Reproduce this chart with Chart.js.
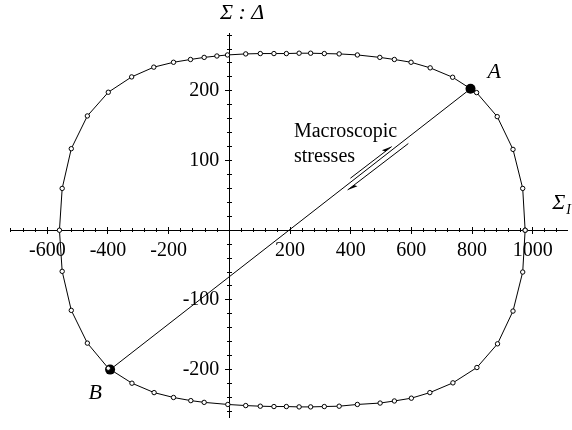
<!DOCTYPE html>
<html>
<head>
<meta charset="utf-8">
<script src="https://cdn.jsdelivr.net/npm/chart.js@4"></script>
<style>
  html, body { margin: 0; padding: 0; background: #fff; }
  #wrap { width: 572px; height: 430px; position: relative; }
</style>
</head>
<body>
<div id="wrap"><canvas id="chart"></canvas></div>
<script>
// ---- data ----
// yield surface (closed loop), open markers
const curveX = [975, 967, 935, 883, 815, 736, 662, 599, 544, 496, 422, 362, 313, 268, 230, 188, 147, 102, 54, -6, -41, -83, -128, -184, -249, -322, -399, -468, -521, -551, -560,
                -551, -521, -468, -399, -321, -248, -184, -127, -83, -5, 54, 102, 147, 188, 230, 268, 313, 362, 422, 497, 544, 600, 661, 737, 816, 884, 935, 967, 975];
const curveY = [0, 60, 116, 163, 197.5, 219.5, 233, 241, 245, 248, 251.5, 253, 253.5, 254, 254, 253.5, 253.5, 253.5, 253, 251.5, 250, 248, 245, 241, 234, 220, 198, 164, 117, 60, 0,
                -59, -115, -162, -198, -219.5, -233, -240, -244.5, -247, -250, -251.6, -252.5, -253, -253, -253.5, -253.5, -253, -252.5, -250, -248, -245, -241, -233, -219, -197, -163, -116, -60, 0];

// stress points A and B
const pointNames = ['A', 'B'];
const pointX = [795, -393];
const pointY = [203, -200];

// axes
const xRange = [-723, 1113];
const yRange = [-268, 283];
const xMajor = 200, xMinor = 40;
const yMajor = 100, yMinor = 20;

// ---- helpers ----
const SERIF = '"Liberation Serif", "Times New Roman", serif';

function tickAxis(axis, step, len, withLabels, withBorder) {
  const range = axis === 'x' ? xRange : yRange;
  return {
    type: 'linear',
    axis: axis,
    min: range[0],
    max: range[1],
    position: axis === 'x' ? { y: 0 } : { x: 0 },
    border: { display: withBorder, color: '#000', width: 1 },
    grid: { drawOnChartArea: false, drawTicks: true, tickLength: len, tickColor: '#000', tickWidth: 1 },
    ticks: {
      display: withLabels,
      autoSkip: false,
      maxRotation: 0,
      padding: 6,
      color: '#000',
      font: { family: SERIF, size: 20 },
      // centred y axis ignores padding, so an en space keeps labels off the axis
      callback: function(v) {
        if (v === 0) return '';
        return axis === 'y' ? v + '\u2002' : String(v);
      }
    },
    // ticks on whole multiples of the step, inside the axis range
    afterBuildTicks: function(s) {
      const t = [];
      for (let v = Math.ceil(range[0] / step) * step; v <= range[1]; v += step) t.push({ value: v });
      s.ticks = t;
    },
    afterFit: function(s) { s.paddingTop = 0; s.paddingBottom = 0; s.paddingLeft = 0; s.paddingRight = 0; }
  };
}

// text + arrow annotations, in data units
const notes = [
  { text: 'Σ : Δ', x: -31, y: 303, font: 'italic 22px ' + SERIF },
  { text: 'A', x: 851, y: 218.5, font: 'italic 22px ' + SERIF },
  { text: 'B', x: -464, y: -242, font: 'italic 22px ' + SERIF },
  { text: 'Macroscopic', x: 213, y: 134, font: '20px ' + SERIF },
  { text: 'stresses', x: 213, y: 98, font: '20px ' + SERIF }
];
const arrows = [
  { from: [399, 74.6], to: [535, 120] },
  { from: [590, 124.4], to: [390, 57.8] }
];

const notesPlugin = {
  id: 'notes',
  afterDatasetsDraw(chart) {
    const ctx = chart.ctx;
    const sx = chart.scales.x, sy = chart.scales.y;
    ctx.save();
    ctx.fillStyle = '#000';
    ctx.strokeStyle = '#000';
    ctx.textBaseline = 'alphabetic';
    ctx.textAlign = 'left';
    notes.forEach(n => {
      ctx.font = n.font;
      ctx.fillText(n.text, sx.getPixelForValue(n.x), sy.getPixelForValue(n.y));
    });

    // Σ_I at the end of the horizontal axis (runs off the right edge)
    const ix = sx.getPixelForValue(1064), iy = sy.getPixelForValue(30.6);
    ctx.font = 'italic 22px ' + SERIF;
    ctx.fillText('Σ', ix, iy);
    ctx.font = 'italic 14px ' + SERIF;
    ctx.fillText('I', ix + 14, iy + 5);

    // half-headed arrows alongside the loading path
    ctx.lineWidth = 1;
    arrows.forEach(a => {
      const x1 = sx.getPixelForValue(a.from[0]), y1 = sy.getPixelForValue(a.from[1]);
      const x2 = sx.getPixelForValue(a.to[0]),   y2 = sy.getPixelForValue(a.to[1]);
      const len = Math.hypot(x2 - x1, y2 - y1);
      const ux = (x2 - x1) / len, uy = (y2 - y1) / len;
      const nx = uy, ny = -ux;
      ctx.beginPath();
      ctx.moveTo(x1, y1);
      ctx.lineTo(x2, y2);
      ctx.stroke();
      ctx.beginPath();
      ctx.moveTo(x2, y2);
      ctx.lineTo(x2 - ux * 10 + nx * 3, y2 - uy * 10 + ny * 3);
      ctx.lineTo(x2 - ux * 8, y2 - uy * 8);
      ctx.closePath();
      ctx.fill();
    });
    ctx.restore();
  }
};

const bgPlugin = {
  id: 'bg',
  beforeDraw(chart) {
    const ctx = chart.ctx;
    ctx.save();
    ctx.fillStyle = '#fff';
    ctx.fillRect(0, 0, chart.width, chart.height);
    ctx.restore();
  }
};

const curveData = curveX.map((x, i) => ({ x: x, y: curveY[i] }));
const pathData = pointX.map((x, i) => ({ x: x, y: pointY[i] }));

new Chart(document.getElementById('chart'), {
  type: 'scatter',
  data: {
    datasets: [
      {
        label: 'yield surface',
        data: curveData,
        showLine: true,
        borderColor: '#000',
        borderWidth: 1,
        pointRadius: 2.2,
        pointBorderWidth: 1,
        pointBorderColor: '#000',
        pointBackgroundColor: '#fff',
        tension: 0
      },
      {
        label: 'loading path',
        data: pathData,
        showLine: true,
        borderColor: '#000',
        borderWidth: 1,
        pointRadius: 5,
        pointBorderWidth: 0,
        pointBackgroundColor: '#000'
      }
    ]
  },
  options: {
    responsive: true,
    maintainAspectRatio: false,
    animation: false,
    layout: { padding: { left: 10, right: 0, top: 33, bottom: 13 } },
    plugins: { legend: { display: false }, tooltip: { enabled: false } },
    scales: {
      x:  tickAxis('x', xMajor, 3, true, true),
      xa: tickAxis('x', xMajor, -3, false, false),
      xb: tickAxis('x', xMinor, 2, false, false),
      xc: tickAxis('x', xMinor, -2, false, false),
      y:  tickAxis('y', yMajor, 4, true, true),
      ya: tickAxis('y', yMajor, -2, false, false),
      yb: tickAxis('y', yMinor, 2, false, false),
      yc: tickAxis('y', yMinor, -3, false, false)
    }
  },
  plugins: [bgPlugin, notesPlugin]
});
</script>
</body>
</html>
